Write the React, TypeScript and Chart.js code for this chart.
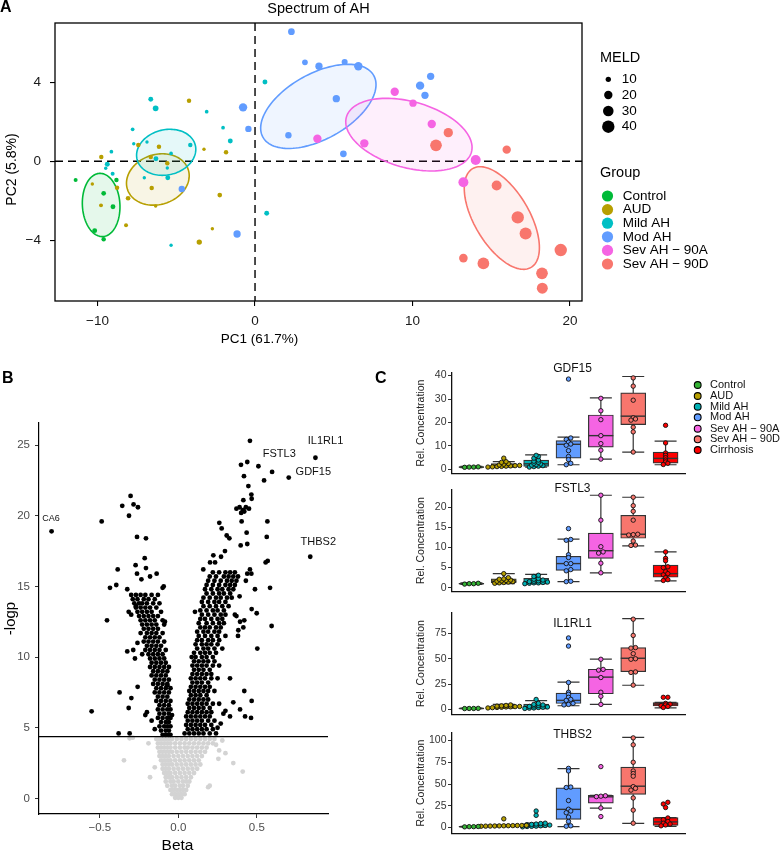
import React, { useEffect, useRef } from "react";
import { Chart, registerables } from "chart.js";

Chart.register(...registerables);

const FONT = '"Liberation Sans", Arial, Helvetica, sans-serif';

// ================= Panel A : PCA =================
const groupNames = ["Control", "AUD", "Mild AH", "Mod AH", "Sev AH \u2212 90A", "Sev AH \u2212 90D"];
const groupColors = ["#00BA38", "#B79F00", "#00BFC4", "#619CFF", "#F564E3", "#F8766D"];
// [PC1, PC2, MELD]
const pcaControl = [[-11.39,-0.95,7],[-8.80,-0.95,8],[-9.61,-1.62,8.5],[-9.02,-2.30,9],[-10.18,-3.51,9],[-9.61,-3.95,8]];
const pcaAUD = [[-4.19,3.07,8],[-3.24,0.61,6],[-1.84,0.46,8],[-6.10,0.74,8],[-7.41,0.83,8],[-9.76,0.22,8],[-6.62,0.22,8],[-5.57,-0.10,8],[-8.76,-1.34,8],[-10.33,-1.15,6],[-9.78,-2.23,7],[-8.06,-1.87,8.5],[-6.56,-1.35,8],[-6.31,-2.26,6],[-2.24,-1.71,8.5],[-8.19,-3.24,7],[-2.71,-3.41,6],[-3.54,-4.09,10]];
const pcaMild = [[-6.62,3.14,9],[-6.31,2.68,11],[-3.07,2.51,6.5],[-2.03,1.70,6.5],[-1.57,1.03,9],[-7.77,1.62,6.5],[-7.70,0.89,6],[-6.86,0.98,6],[-9.12,0.49,6.5],[-9.38,-0.15,9],[-9.48,-0.35,6],[-9.04,-0.63,7],[-4.11,0.83,8],[-5.33,0.40,6.5],[-6.29,0.13,9],[-5.57,-0.34,6],[-5.54,-0.83,9],[-7.03,-0.83,6],[-5.33,-4.25,6],[0.63,4.01,9],[0.74,-2.63,9]];
const pcaMod = [[-0.76,2.73,20],[-0.42,1.64,13],[-4.65,-1.40,13],[-1.14,-3.68,16],[2.31,6.56,14],[3.17,5.01,11],[4.06,4.81,16],[5.69,5.03,12],[6.56,4.81,20],[5.16,3.17,16],[2.12,1.32,13],[5.61,0.38,14],[10.48,3.83,20],[11.15,4.30,16],[10.79,3.34,16]];
const pcaSev90A = [[8.87,3.52,20],[10.03,2.94,16],[11.22,1.89,20],[3.96,1.14,20],[6.94,0.91,20],[14.01,0.07,27],[13.23,-1.06,27]];
const pcaSev90D = [[12.27,1.45,24],[11.49,0.81,36],[15.98,0.59,20],[15.34,-1.22,27],[16.68,-2.84,40],[17.18,-3.65,38],[19.41,-4.49,40],[13.23,-4.90,21],[14.50,-5.17,36],[18.22,-5.67,36],[18.24,-6.42,32]];
const pcaGroups = [pcaControl, pcaAUD, pcaMild, pcaMod, pcaSev90A, pcaSev90D];
// ellipse per group: [centre PC1, centre PC2, semi-axis A (dPC1, dPC2), semi-axis B (dPC1, dPC2)]
const pcaEllipses = [
  [-9.77, -2.21, 0.107, -1.60, 1.19, 0.05],
  [-6.17, -0.92, 1.93, 0.50, 0.49, -1.20],
  [-5.64, 0.455, 1.85, 0.355, 0.336, -1.11],
  [4.02, 2.78, 3.52, 1.56, 1.01, -1.45],
  [9.77, 1.35, 3.97, -0.886, -0.565, -1.61],
  [15.67, -2.87, 1.855, -2.50, -1.50, -0.706],
];
const meldLegend = [10, 20, 30, 40];
const pc1Ticks = [-10, 0, 10, 20];
const pc2Ticks = [-4, 0, 4];

// ================= Panel B : volcano =================
const sigLeftArm = [
  [-0.488,19.6],[-0.552,6.16],[-0.357,20.7],[-0.304,21.4],[-0.285,20.8],[-0.257,20.6],[-0.314,20.0],[-0.263,18.5],[-0.206,18.4],[-0.214,17.0],[-0.386,16.2],[-0.272,16.5],[-0.206,16.3],[-0.138,15.9],[-0.263,15.9],[-0.235,15.5],[-0.180,15.7],[-0.435,14.9],[-0.395,15.1],[-0.325,14.8],[-0.093,15.0],[-0.454,12.6],[-0.316,13.2],[-0.325,10.4],[-0.287,10.5],[-0.276,9.9],[-0.259,7.9],[-0.374,7.5],[-0.299,7.1],[-0.316,6.4],[-0.380,4.6],[-0.310,4.6],
  [-0.30,14.4],[-0.27,14.4],[-0.24,14.4],[-0.21,14.4],[-0.17,14.4],[-0.13,14.4],
  [-0.29,14.1],[-0.26,14.1],[-0.22,14.1],[-0.19,14.1],[-0.15,14.1],
  [-0.28,13.8],[-0.25,13.8],[-0.23,13.8],[-0.20,13.8],[-0.16,13.8],[-0.12,13.8],
  [-0.27,13.5],[-0.24,13.5],[-0.21,13.5],[-0.18,13.5],[-0.14,13.5],
  [-0.26,13.2],[-0.23,13.2],[-0.20,13.2],[-0.17,13.2],[-0.11,13.2],
  [-0.25,12.9],[-0.22,12.9],[-0.19,12.9],[-0.16,12.9],[-0.13,12.9],
  [-0.24,12.6],[-0.21,12.6],[-0.18,12.6],[-0.15,12.6],[-0.10,12.6],
  [-0.23,12.3],[-0.20,12.3],[-0.17,12.3],[-0.14,12.3],[-0.09,12.3],
  [-0.22,12.0],[-0.19,12.0],[-0.16,12.0],[-0.13,12.0],
  [-0.24,11.7],[-0.20,11.7],[-0.17,11.7],[-0.14,11.7],[-0.10,11.7],
  [-0.21,11.4],[-0.18,11.4],[-0.15,11.4],[-0.12,11.4],
  [-0.22,11.1],[-0.19,11.1],[-0.16,11.1],[-0.13,11.1],[-0.09,11.1],
  [-0.20,10.8],[-0.17,10.8],[-0.14,10.8],[-0.11,10.8],
  [-0.21,10.5],[-0.18,10.5],[-0.15,10.5],[-0.12,10.5],[-0.08,10.5],
  [-0.19,10.2],[-0.16,10.2],[-0.13,10.2],[-0.10,10.2],
  [-0.18,9.9],[-0.15,9.9],[-0.12,9.9],[-0.09,9.9],
  [-0.17,9.6],[-0.14,9.6],[-0.11,9.6],[-0.08,9.6],
  [-0.18,9.3],[-0.15,9.3],[-0.12,9.3],[-0.09,9.3],[-0.06,9.3],
  [-0.16,9.0],[-0.13,9.0],[-0.10,9.0],[-0.07,9.0],
  [-0.17,8.7],[-0.14,8.7],[-0.11,8.7],[-0.08,8.7],
  [-0.15,8.4],[-0.12,8.4],[-0.09,8.4],[-0.06,8.4],
  [-0.16,8.1],[-0.13,8.1],[-0.10,8.1],[-0.07,8.1],
  [-0.14,7.8],[-0.11,7.8],[-0.08,7.8],[-0.05,7.8],
  [-0.15,7.5],[-0.12,7.5],[-0.09,7.5],[-0.06,7.5],
  [-0.13,7.2],[-0.10,7.2],[-0.07,7.2],
  [-0.14,6.9],[-0.11,6.9],[-0.08,6.9],[-0.05,6.9],
  [-0.12,6.6],[-0.09,6.6],[-0.06,6.6],
  [-0.13,6.3],[-0.10,6.3],[-0.07,6.3],[-0.05,6.3],
  [-0.12,6.0],[-0.09,6.0],[-0.06,6.0],
  [-0.13,5.7],[-0.10,5.7],[-0.07,5.7],[-0.05,5.7],
  [-0.11,5.4],[-0.08,5.4],[-0.06,5.4],
  [-0.12,5.1],[-0.09,5.1],[-0.07,5.1],[-0.05,5.1],
  [-0.11,4.8],[-0.08,4.8],[-0.06,4.8],
  [-0.10,4.5],[-0.08,4.5],[-0.06,4.5],[-0.05,4.5],
  [-0.21,5.9],[-0.20,6.1],[-0.17,5.5],[-0.15,4.9],[-0.27,13.6],[-0.30,13.0],[-0.085,12.5],[-0.10,14.9],[-0.26,11.0],[-0.23,10.2],[-0.07,8.0],[-0.04,5.9],
];
const sigRightArm = [
  [0.456,25.3],[0.399,23.6],[0.439,23.8],[0.597,23.1],[0.546,22.5],[0.418,22.8],[0.446,22.1],[0.465,21.5],[0.467,21.2],[0.414,21.1],[0.37,20.5],[0.39,20.6],[0.41,20.4],[0.43,20.6],[0.45,20.5],[0.40,20.2],[0.42,20.3],[0.403,19.6],[0.567,19.6],[0.435,18.8],[0.563,18.5],[0.261,19.5],[0.276,19.1],[0.308,18.6],[0.325,18.4],[0.397,17.9],[0.439,18.0],[0.569,16.8],[0.556,16.7],[0.223,17.2],[0.297,17.5],[0.272,17.1],[0.234,16.7],[0.202,16.7],[0.159,16.2],[0.456,16.2],[0.439,15.9],[0.465,15.9],[0.584,14.9],[0.488,14.8],[0.594,12.2],[0.503,10.6],[0.467,13.4],[0.499,13.1],[0.393,12.5],[0.414,12.1],[0.382,11.9],[0.106,13.2],[0.085,10.0],[0.329,8.5],[0.420,7.6],[0.467,6.9],[0.350,6.8],[0.393,6.3],[0.425,5.8],[0.463,5.7],[0.329,5.8],[0.287,6.0],[0.26,6.7],[0.30,6.2],[0.25,5.0],[0.27,5.3],[0.42,12.6],[0.43,15.4],[0.39,14.3],[0.36,13.0],[0.38,11.5],[0.37,12.9],
  [0.22,16.0],[0.26,16.0],[0.30,16.0],[0.33,16.0],[0.36,16.0],
  [0.20,15.7],[0.24,15.7],[0.29,15.7],[0.32,15.7],[0.35,15.7],[0.38,15.7],
  [0.19,15.4],[0.23,15.4],[0.27,15.4],[0.31,15.4],[0.34,15.4],[0.37,15.4],
  [0.18,15.1],[0.22,15.1],[0.26,15.1],[0.30,15.1],[0.33,15.1],[0.36,15.1],
  [0.17,14.8],[0.21,14.8],[0.25,14.8],[0.28,14.8],[0.32,14.8],[0.35,14.8],
  [0.18,14.5],[0.22,14.5],[0.26,14.5],[0.29,14.5],[0.33,14.5],
  [0.16,14.2],[0.20,14.2],[0.24,14.2],[0.27,14.2],[0.31,14.2],[0.34,14.2],
  [0.15,13.9],[0.19,13.9],[0.23,13.9],[0.26,13.9],[0.30,13.9],
  [0.16,13.6],[0.20,13.6],[0.24,13.6],[0.28,13.6],[0.32,13.6],
  [0.14,13.3],[0.18,13.3],[0.22,13.3],[0.25,13.3],[0.29,13.3],
  [0.15,13.0],[0.19,13.0],[0.23,13.0],[0.27,13.0],[0.30,13.0],
  [0.14,12.7],[0.17,12.7],[0.21,12.7],[0.25,12.7],[0.28,12.7],
  [0.13,12.4],[0.18,12.4],[0.22,12.4],[0.26,12.4],[0.29,12.4],
  [0.14,12.1],[0.17,12.1],[0.20,12.1],[0.24,12.1],[0.27,12.1],
  [0.12,11.8],[0.16,11.8],[0.19,11.8],[0.23,11.8],[0.26,11.8],
  [0.13,11.5],[0.17,11.5],[0.21,11.5],[0.25,11.5],[0.30,11.5],
  [0.12,11.2],[0.15,11.2],[0.19,11.2],[0.22,11.2],[0.26,11.2],
  [0.11,10.9],[0.15,10.9],[0.18,10.9],[0.21,10.9],[0.25,10.9],
  [0.12,10.6],[0.16,10.6],[0.19,10.6],[0.23,10.6],[0.28,10.6],
  [0.10,10.3],[0.14,10.3],[0.17,10.3],[0.20,10.3],[0.24,10.3],
  [0.11,10.0],[0.15,10.0],[0.18,10.0],[0.22,10.0],
  [0.10,9.7],[0.13,9.7],[0.16,9.7],[0.19,9.7],[0.23,9.7],
  [0.09,9.4],[0.12,9.4],[0.15,9.4],[0.18,9.4],[0.22,9.4],[0.26,9.4],
  [0.10,9.1],[0.13,9.1],[0.16,9.1],[0.20,9.1],
  [0.09,8.8],[0.12,8.8],[0.15,8.8],[0.18,8.8],[0.21,8.8],
  [0.08,8.5],[0.11,8.5],[0.14,8.5],[0.17,8.5],[0.21,8.5],[0.25,8.5],
  [0.09,8.2],[0.12,8.2],[0.15,8.2],[0.19,8.2],
  [0.08,7.9],[0.11,7.9],[0.14,7.9],[0.17,7.9],[0.20,7.9],
  [0.07,7.6],[0.10,7.6],[0.13,7.6],[0.16,7.6],[0.19,7.6],[0.23,7.6],
  [0.08,7.3],[0.11,7.3],[0.14,7.3],[0.18,7.3],
  [0.07,7.0],[0.10,7.0],[0.13,7.0],[0.16,7.0],[0.19,7.0],
  [0.06,6.7],[0.09,6.7],[0.12,6.7],[0.15,6.7],[0.18,6.7],[0.22,6.7],
  [0.07,6.4],[0.10,6.4],[0.13,6.4],[0.16,6.4],[0.20,6.4],
  [0.06,6.1],[0.09,6.1],[0.12,6.1],[0.15,6.1],[0.18,6.1],[0.21,6.1],
  [0.05,5.8],[0.08,5.8],[0.11,5.8],[0.14,5.8],[0.17,5.8],[0.20,5.8],
  [0.06,5.5],[0.09,5.5],[0.12,5.5],[0.15,5.5],[0.19,5.5],[0.23,5.5],
  [0.05,5.2],[0.08,5.2],[0.11,5.2],[0.14,5.2],[0.17,5.2],[0.21,5.2],
  [0.06,4.9],[0.09,4.9],[0.12,4.9],[0.15,4.9],[0.18,4.9],[0.22,4.9],
  [0.04,4.6],[0.07,4.6],[0.10,4.6],[0.13,4.6],[0.16,4.6],[0.20,4.6],[0.24,4.6],
];
const nonSig = [
  [-0.14,4.2],[-0.12,4.2],[-0.10,4.2],[-0.08,4.2],[-0.06,4.2],[-0.04,4.2],[-0.01,4.2],[0.02,4.2],[0.05,4.2],[0.08,4.2],[0.11,4.2],[0.14,4.2],[0.17,4.2],[0.20,4.2],[0.23,4.2],
  [-0.13,3.9],[-0.11,3.9],[-0.09,3.9],[-0.07,3.9],[-0.05,3.9],[-0.02,3.9],[0.01,3.9],[0.04,3.9],[0.07,3.9],[0.10,3.9],[0.13,3.9],[0.16,3.9],[0.19,3.9],[0.22,3.9],
  [-0.13,3.6],[-0.11,3.6],[-0.09,3.6],[-0.07,3.6],[-0.05,3.6],[-0.02,3.6],[0.01,3.6],[0.04,3.6],[0.06,3.6],[0.09,3.6],[0.12,3.6],[0.15,3.6],[0.18,3.6],
  [-0.12,3.3],[-0.10,3.3],[-0.08,3.3],[-0.06,3.3],[-0.04,3.3],[-0.01,3.3],[0.02,3.3],[0.05,3.3],[0.08,3.3],[0.11,3.3],[0.14,3.3],[0.17,3.3],
  [-0.12,3.0],[-0.10,3.0],[-0.08,3.0],[-0.06,3.0],[-0.03,3.0],[0.00,3.0],[0.03,3.0],[0.06,3.0],[0.09,3.0],[0.12,3.0],[0.15,3.0],
  [-0.11,2.7],[-0.09,2.7],[-0.07,2.7],[-0.05,2.7],[-0.02,2.7],[0.01,2.7],[0.04,2.7],[0.07,2.7],[0.10,2.7],[0.13,2.7],
  [-0.10,2.4],[-0.08,2.4],[-0.06,2.4],[-0.04,2.4],[-0.01,2.4],[0.02,2.4],[0.05,2.4],[0.08,2.4],[0.11,2.4],[0.14,2.4],
  [-0.10,2.1],[-0.08,2.1],[-0.06,2.1],[-0.03,2.1],[0.00,2.1],[0.03,2.1],[0.06,2.1],[0.09,2.1],[0.12,2.1],
  [-0.09,1.8],[-0.07,1.8],[-0.05,1.8],[-0.02,1.8],[0.01,1.8],[0.04,1.8],[0.07,1.8],[0.10,1.8],
  [-0.08,1.5],[-0.06,1.5],[-0.04,1.5],[-0.01,1.5],[0.02,1.5],[0.05,1.5],[0.08,1.5],
  [-0.08,1.2],[-0.05,1.2],[-0.03,1.2],[0.00,1.2],[0.03,1.2],[0.05,1.2],[0.07,1.2],
  [-0.07,0.9],[-0.04,0.9],[-0.02,0.9],[0.01,0.9],[0.03,0.9],[0.06,0.9],
  [-0.05,0.6],[-0.03,0.6],[-0.01,0.6],[0.01,0.6],[0.03,0.6],[0.05,0.6],
  [-0.04,0.3],[-0.02,0.3],[0.00,0.3],[0.02,0.3],[0.04,0.3],
  [-0.02,0.05],[0.00,0.05],[0.02,0.05],
  [-0.346,2.7],[-0.31,4.25],[-0.29,4.3],[-0.18,1.5],[-0.15,2.2],[0.41,1.9],[0.35,2.5],[0.20,0.9],[0.24,3.8],[0.26,3.4],[0.255,2.8],[0.19,0.8],[0.28,4.1],[-0.19,3.9],[0.30,3.2],
];
const geneNames = ["IL1RL1", "FSTL3", "GDF15", "THBS2", "CA6"];
const geneBeta = [0.873, 0.51, 0.703, 0.84, -0.807];
const geneLogp = [24.1, 23.5, 22.7, 17.1, 18.9];
const logpThreshold = 4.37;
const betaTicks = [-0.5, 0, 0.5];
const betaTickLabels = ["\u22120.5", "0.0", "0.5"];
const logpTicks = [0, 5, 10, 15, 20, 25];

// ================= Panel C : box plots =================
const cGroupNames = ["Control", "AUD", "Mild AH", "Mod AH", "Sev AH \u2212 90A", "Sev AH \u2212 90D", "Cirrhosis"];
const cGroupColors = ["#35B335", "#B79F00", "#00B0B4", "#619CFF", "#F564E3", "#F8766D", "#FF0000"];
// stats per group: [lower whisker, Q1, median, Q3, upper whisker]
const gdf15Points = [
  [0.9, 1.0, 1.1, 1.0],
  [1.0, 1.1, 1.2, 1.3, 1.4, 1.5, 1.6, 1.7, 1.9, 2.2, 2.5, 3.0, 3.3, 4.8],
  [1.0, 1.2, 1.4, 1.6, 1.8, 2.0, 2.3, 2.6, 3.0, 3.5, 4.0, 4.8, 5.5, 6.0],
  [38.5, 13.4, 12.8, 11.6, 10.8, 10.3, 8.0, 5.5, 4.2, 2.6, 2.0],
  [30.3, 25.0, 21.2, 14.4, 11.0, 8.2, 4.4],
  [39.0, 35.5, 29.5, 22.0, 21.5, 21.0, 18.0, 16.0, 7.4],
  [18.8, 11.3, 7.0, 6.0, 5.0, 4.0, 3.2, 2.6, 2.1],
];
const gdf15Stats = [[0.8,0.9,1.0,1.15,1.3],[1.0,1.2,1.6,2.5,3.3],[1.0,1.3,2.4,4.0,6.2],[2.0,4.8,10.7,12.3,13.8],[4.4,9.5,14.4,23.2,30.5],[7.4,19.1,22.7,32.6,39.6],[2.0,2.7,4.7,7.4,12.1]];
const fstl3Points = [
  [1.0, 1.1, 0.9, 1.0],
  [1.1, 1.2, 1.3, 1.4, 1.5, 1.6, 1.7, 1.8, 1.9, 2.1, 2.2, 2.5, 3.5],
  [1.0, 1.1, 1.2, 1.2, 1.3, 1.4, 1.5, 1.6, 1.7, 1.9, 2.1, 2.3, 2.8, 3.1],
  [14.7, 12.0, 11.8, 8.2, 7.5, 6.0, 6.0, 4.5, 4.2, 1.6, 1.5],
  [23.0, 16.8, 10.2, 8.9, 8.6, 6.1, 3.7],
  [22.5, 20.4, 19.0, 16.8, 13.3, 13.2, 13.1, 11.6, 10.6, 10.5],
  [8.9, 7.3, 6.7, 5.2, 5.0, 4.0, 3.5, 3.2, 2.5, 2.0, 1.8],
];
const fstl3Stats = [[0.85,0.95,1.0,1.1,1.2],[1.0,1.2,1.6,2.2,3.5],[1.0,1.1,1.4,2.3,3.3],[1.5,4.3,6.0,7.8,12.1],[3.7,7.3,9.2,13.6,23.0],[10.4,12.3,13.3,18.0,22.5],[1.7,2.6,3.5,5.6,8.9]];
const il1rl1Points = [
  [1.0, 1.1, 0.9, 1.0],
  [1.5, 1.8, 2.0, 2.2, 2.5, 2.6, 2.8, 3.0, 3.3, 3.6, 4.0, 4.5],
  [1.0, 1.3, 1.5, 2.0, 2.2, 2.5, 3.0, 3.5, 4.0, 4.5, 5.0, 6.0, 9.9],
  [70.5, 62.5, 26.6, 17.0, 15.0, 12.0, 10.0, 9.0, 6.0, 5.0, 4.5],
  [49.5, 39.5, 38.8, 31.5, 17.0, 13.0, 5.0],
  [89.0, 73.0, 61.0, 60.5, 55.0, 50.0, 49.5, 37.0, 36.5, 24.0],
  [12.0, 12.0, 6.0, 5.2, 4.5, 3.8, 3.0, 2.0],
];
const il1rl1Stats = [[0.7,0.9,1.0,1.2,1.3],[1.2,1.9,2.6,3.4,5.0],[0.9,1.6,3.0,5.3,8.7],[3.7,5.9,9.0,16.1,27.0],[5.0,15.5,31.9,39.7,49.6],[23.9,37.2,50.5,61.0,89.6],[1.5,3.4,5.3,6.8,7.0]];
const thbs2Points = [
  [1.0, 0.8, 1.2, 1.0],
  [1.5, 1.6, 1.7, 1.8, 1.9, 2.0, 2.1, 2.2, 2.3, 2.4, 2.5, 10.0],
  [0.8, 1.2, 1.4, 1.6, 2.0, 2.4, 2.8, 3.2, 3.6, 4.0, 4.6, 5.0, 14.0, 19.0],
  [68.0, 65.0, 46.5, 46.0, 31.0, 21.0, 19.0, 17.0, 12.0, 7.0, 2.0, 1.5],
  [70.0, 36.5, 36.0, 35.5, 22.5, 12.6],
  [103.0, 95.0, 75.0, 65.0, 62.0, 59.0, 47.0, 45.0, 43.0, 34.0, 20.0, 5.0],
  [29.0, 27.0, 23.0, 11.0, 9.0, 7.0, 5.0, 4.0, 3.0, 2.0],
];
const thbs2Stats = [[0.6,0.8,1.0,1.2,1.4],[1.3,1.7,2.0,2.4,2.8],[0.7,1.3,2.5,4.5,5.0],[1.1,9.4,20.9,45.7,67.6],[22.3,28.0,35.3,37.0,37.0],[4.7,38.1,47.5,69.4,103.6],[1.4,2.5,6.5,11.5,11.5]];
const gdf15Ticks = [0, 10, 20, 30, 40];
const fstl3Ticks = [0, 5, 10, 15, 20];
const il1rl1Ticks = [0, 25, 50, 75];
const thbs2Ticks = [0, 25, 50, 75, 100];

// ================= helpers =================
const minus = (v: number) => (v < 0 ? "\u2212" + Math.abs(v) : String(v));
const fixedTicks = (vals: number[]) => (scale: any) => {
  scale.ticks = vals.map((v) => ({ value: v }));
};
const fnt = (size: number, weight: any = "normal") => ({ family: FONT, size, weight, lineHeight: 1.2 });
function rgba(hex: string, a: number) {
  const n = parseInt(hex.slice(1), 16);
  return `rgba(${(n >> 16) & 255},${(n >> 8) & 255},${n & 255},${a})`;
}
function meldRadius(m: number) {
  return Math.sqrt(Math.max(1.5, 1.044 * m - 3.36));
}
function drawText(ctx: any, s: string, x: number, y: number, size: number, align: string = "center", color = "#000", weight = "normal", rot = 0) {
  ctx.save();
  ctx.font = `${weight} ${size}px ${FONT}`;
  ctx.fillStyle = color;
  ctx.textAlign = align;
  ctx.textBaseline = "middle";
  ctx.translate(x, y);
  if (rot) ctx.rotate(rot);
  ctx.fillText(s, 0, 0);
  ctx.restore();
}
function stackOffsets(values: number[], bin: number, spacing: number) {
  const sorted = values.map((v, i) => ({ v, i })).sort((a, b) => a.v - b.v);
  const out: number[] = new Array(values.length).fill(0);
  let cur: { v: number; i: number }[] = [];
  const flush = () => {
    cur.forEach((d, k) => (out[d.i] = (k - (cur.length - 1) / 2) * spacing));
    cur = [];
  };
  sorted.forEach((d) => {
    if (cur.length && d.v - cur[0].v > bin) flush();
    cur.push(d);
  });
  flush();
  return out;
}
const baseOptions = {
  responsive: false,
  animation: false,
  devicePixelRatio: 1,
  events: [],
  plugins: { legend: { display: false }, tooltip: { enabled: false }, title: { display: false } },
};

// ================= Panel A config =================
const panelAPlugin = {
  id: "panelA",
  beforeDatasetsDraw(chart: any) {
    const { ctx, chartArea: ca, scales } = chart;
    const x = scales.x, y = scales.y;
    ctx.save();
    ctx.strokeStyle = "#000";
    ctx.lineWidth = 1.4;
    ctx.setLineDash([8, 5]);
    const x0 = x.getPixelForValue(0), y0 = y.getPixelForValue(0);
    ctx.beginPath();
    ctx.moveTo(x0, ca.top); ctx.lineTo(x0, ca.bottom);
    ctx.moveTo(ca.left, y0); ctx.lineTo(ca.right, y0);
    ctx.stroke();
    ctx.setLineDash([]);
    pcaEllipses.forEach((e, gi) => {
      ctx.beginPath();
      for (let k = 0; k <= 120; k++) {
        const t = (k / 120) * 2 * Math.PI;
        const vx = e[0] + e[2] * Math.cos(t) + e[4] * Math.sin(t);
        const vy = e[1] + e[3] * Math.cos(t) + e[5] * Math.sin(t);
        const px = x.getPixelForValue(vx), py = y.getPixelForValue(vy);
        if (k === 0) ctx.moveTo(px, py); else ctx.lineTo(px, py);
      }
      ctx.closePath();
      ctx.fillStyle = rgba(groupColors[gi], 0.1);
      ctx.fill();
      ctx.strokeStyle = groupColors[gi];
      ctx.lineWidth = 1.6;
      ctx.stroke();
    });
    ctx.restore();
  },
  afterDraw(chart: any) {
    const { ctx, chartArea: ca } = chart;
    ctx.save();
    ctx.strokeStyle = "#000";
    ctx.lineWidth = 1.3;
    ctx.strokeRect(ca.left, ca.top, ca.right - ca.left, ca.bottom - ca.top);
    ctx.restore();
    drawText(ctx, "A", 0, 8, 16, "left", "#000", "bold");
    drawText(ctx, "Spectrum of AH", (ca.left + ca.right) / 2, 8.5, 14.5);
    drawText(ctx, "PC1 (61.7%)", 259.5, 339, 13.5);
    drawText(ctx, "PC2 (5.8%)", 12, 169.5, 14, "center", "#000", "normal", -Math.PI / 2);
    // MELD legend
    drawText(ctx, "MELD", 600, 58, 14.5, "left");
    const meldY = [79.3, 95, 111, 126.7];
    meldLegend.forEach((m, i) => {
      ctx.beginPath();
      ctx.arc(608.3, meldY[i], meldRadius(m), 0, Math.PI * 2);
      ctx.fillStyle = "#000";
      ctx.fill();
      drawText(ctx, String(m), 621.7, meldY[i], 13.5, "left");
    });
    drawText(ctx, "Group", 600, 173, 14.5, "left");
    const gy = [196, 209.6, 223.2, 236.8, 250.4, 264];
    groupNames.forEach((g, i) => {
      ctx.beginPath();
      ctx.arc(607.5, gy[i], 5.6, 0, Math.PI * 2);
      ctx.fillStyle = groupColors[i];
      ctx.fill();
      drawText(ctx, g, 622.7, gy[i], 13.5, "left");
    });
  },
};

function configA(): any {
  return {
    type: "scatter",
    data: {
      datasets: pcaGroups.map((g, gi) => ({
        label: groupNames[gi],
        data: g.map((p) => ({ x: p[0], y: p[1] })),
        pointBackgroundColor: groupColors[gi],
        pointBorderWidth: 0,
        pointRadius: (c: any) => meldRadius(g[c.dataIndex][2]),
      })),
    },
    options: {
      ...baseOptions,
      layout: { padding: { left: 0, top: 23, right: 198, bottom: 0 } },
      scales: {
        x: {
          type: "linear", min: -12.7, max: 20.76,
          afterBuildTicks: fixedTicks(pc1Ticks),
          afterFit: (s: any) => { s.height = 49; },
          grid: { drawOnChartArea: false, drawTicks: true, tickLength: 5, color: "#000", lineWidth: 1.1 },
          border: { display: false },
          ticks: { font: fnt(13.5), color: "#1a1a1a", padding: 7.5, maxRotation: 0, autoSkip: false, callback: (v: any) => minus(v) },
        },
        y: {
          type: "linear", min: -7.07, max: 7.0,
          afterBuildTicks: fixedTicks(pc2Ticks),
          afterFit: (s: any) => { s.width = 55; },
          grid: { drawOnChartArea: false, drawTicks: true, tickLength: 5, color: "#000", lineWidth: 1.1 },
          border: { display: false },
          ticks: { font: fnt(13.5), color: "#1a1a1a", padding: 9, autoSkip: false, callback: (v: any) => minus(v) },
        },
      },
    },
    plugins: [panelAPlugin],
  };
}

// ================= Panel B config =================
const labelOffsets = [[10.1, -17], [20.9, -12.2], [24.6, -5.8], [8.1, -14.4], [-0.6, -12.3]];
const labelSizes = [11, 11, 11, 11, 9];
const panelBPlugin = {
  id: "panelB",
  afterDatasetsDraw(chart: any) {
    const { ctx, chartArea: ca, scales } = chart;
    const yT = scales.y.getPixelForValue(logpThreshold);
    ctx.save();
    ctx.strokeStyle = "#000";
    ctx.lineWidth = 1.3;
    ctx.beginPath();
    ctx.moveTo(ca.left, yT); ctx.lineTo(ca.right, yT);
    ctx.stroke();
    ctx.restore();
    geneNames.forEach((g, i) => {
      const px = scales.x.getPixelForValue(geneBeta[i]);
      const py = scales.y.getPixelForValue(geneLogp[i]);
      drawText(ctx, g, px + labelOffsets[i][0], py + labelOffsets[i][1], labelSizes[i], "center", "#111");
    });
  },
  afterDraw(chart: any) {
    const { ctx, chartArea: ca } = chart;
    drawText(ctx, "B", 2, 49, 16, "left", "#000", "bold");
    drawText(ctx, "-logp", 11, (ca.top + ca.bottom) / 2, 15, "center", "#000", "normal", -Math.PI / 2);
    drawText(ctx, "Beta", (ca.left + ca.right) / 2 - 6, 516, 15.5);
  },
};
function configB(): any {
  return {
    type: "scatter",
    data: {
      datasets: [
        {
          label: "ns", order: 2,
          data: nonSig.map((p) => ({ x: p[0], y: p[1] })),
          pointBackgroundColor: "#D3D3D3", pointBorderWidth: 0, pointRadius: 2.4,
        },
        {
          label: "sig", order: 1,
          data: [...sigLeftArm, ...sigRightArm].map((p) => ({ x: p[0], y: p[1] })),
          pointBackgroundColor: "#000", pointBorderWidth: 0, pointRadius: 2.4,
        },
        {
          label: "genes", order: 0,
          data: geneBeta.map((b, i) => ({ x: b, y: geneLogp[i] })),
          pointBackgroundColor: "#000", pointBorderWidth: 0, pointRadius: 2.4,
        },
      ],
    },
    options: {
      ...baseOptions,
      layout: { padding: { left: 0, top: 93, right: 32, bottom: 0 } },
      scales: {
        x: {
          type: "linear", min: -0.887, max: 0.953,
          afterBuildTicks: fixedTicks(betaTicks),
          afterFit: (s: any) => { s.height = 43; },
          grid: { drawOnChartArea: false, drawTicks: true, tickLength: 4, color: "#333", lineWidth: 1 },
          border: { display: true, color: "#000", width: 1.2 },
          ticks: { font: fnt(11.5), color: "#4D4D4D", padding: 2.5, maxRotation: 0, autoSkip: false, callback: (_v: any, i: number) => betaTickLabels[i] },
        },
        y: {
          type: "linear", min: -1.1, max: 26.56,
          afterBuildTicks: fixedTicks(logpTicks),
          afterFit: (s: any) => { s.width = 39; },
          grid: { drawOnChartArea: false, drawTicks: true, tickLength: 4, color: "#333", lineWidth: 1 },
          border: { display: true, color: "#000", width: 1.2 },
          ticks: { font: fnt(11.5), color: "#4D4D4D", padding: 5, autoSkip: false, callback: (v: any) => String(v) },
        },
      },
    },
    plugins: [panelBPlugin],
  };
}

// ================= Panel C config =================
const cPanels = [
  { title: "GDF15", points: gdf15Points, stats: gdf15Stats, ticks: gdf15Ticks, min: -1.61, max: 41.09, top: 355, height: 126, padTop: 18, titleY: 369 },
  { title: "FSTL3", points: fstl3Points, stats: fstl3Stats, ticks: fstl3Ticks, min: -0.87, max: 24.3, top: 481, height: 118, padTop: 9, titleY: 489 },
  { title: "IL1RL1", points: il1rl1Points, stats: il1rl1Stats, ticks: il1rl1Ticks, min: -4.65, max: 95.1, top: 600, height: 122, padTop: 13, titleY: 624 },
  { title: "THBS2", points: thbs2Points, stats: thbs2Stats, ticks: thbs2Ticks, min: -6.5, max: 108.6, top: 722, height: 119, padTop: 11, titleY: 735 },
];
const BOX_W = 25;
const CAP_W = 22;

function boxPlugin(p: any, idx: number) {
  return {
    id: "box" + idx,
    beforeDatasetsDraw(chart: any) {
      const { ctx, scales } = chart;
      const x = scales.x, y = scales.y;
      ctx.save();
      ctx.strokeStyle = "#333";
      ctx.lineWidth = 1.2;
      p.stats.forEach((s: number[], i: number) => {
        const cx = x.getPixelForValue(i + 1);
        const y0 = y.getPixelForValue(s[0]), y1 = y.getPixelForValue(s[1]);
        const y3 = y.getPixelForValue(s[3]), y4 = y.getPixelForValue(s[4]);
        ctx.beginPath();
        ctx.moveTo(cx, y0); ctx.lineTo(cx, y1);
        ctx.moveTo(cx, y3); ctx.lineTo(cx, y4);
        ctx.moveTo(cx - CAP_W / 2, y0); ctx.lineTo(cx + CAP_W / 2, y0);
        ctx.moveTo(cx - CAP_W / 2, y4); ctx.lineTo(cx + CAP_W / 2, y4);
        ctx.stroke();
      });
      ctx.restore();
    },
    afterDatasetDraw(chart: any, args: any) {
      if (args.index !== 0) return;
      const { ctx, scales } = chart;
      ctx.save();
      ctx.strokeStyle = "#333";
      ctx.lineWidth = 1.4;
      p.stats.forEach((s: number[], i: number) => {
        const cx = scales.x.getPixelForValue(i + 1);
        const ym = scales.y.getPixelForValue(s[2]);
        ctx.beginPath();
        ctx.moveTo(cx - BOX_W / 2, ym); ctx.lineTo(cx + BOX_W / 2, ym);
        ctx.stroke();
      });
      ctx.restore();
    },
    afterDraw(chart: any) {
      const { ctx, chartArea: ca } = chart;
      drawText(ctx, p.title, 212.5, p.titleY - p.top, 12, "center", "#111");
      drawText(ctx, "Rel. Concentration", 61, (ca.top + ca.bottom) / 2, 10.5, "center", "#222", "normal", -Math.PI / 2);
      if (idx === 0) {
        drawText(ctx, "C", 15, 24, 16, "left", "#000", "bold");
        const ly = [30, 41, 51.7, 62.3, 73.7, 84.3, 95];
        cGroupNames.forEach((g, i) => {
          ctx.beginPath();
          ctx.arc(337.7, ly[i], 3.4, 0, Math.PI * 2);
          ctx.fillStyle = cGroupColors[i];
          ctx.fill();
          ctx.strokeStyle = "#000";
          ctx.lineWidth = 1.1;
          ctx.stroke();
          drawText(ctx, g, 350, ly[i], 11, "left", "#111");
        });
      }
    },
  };
}

function configC(p: any, idx: number): any {
  const range = p.max - p.min;
  const pointSets = p.points.map((vals: number[], gi: number) => {
    const offs = stackOffsets(vals, range * 0.018, 0.14);
    return {
      type: "scatter",
      label: cGroupNames[gi],
      order: 0,
      data: vals.map((v, k) => ({ x: gi + 1 + offs[k], y: v })),
      pointBackgroundColor: cGroupColors[gi],
      pointBorderColor: "#111",
      pointBorderWidth: 0.9,
      pointRadius: 2.2,
    };
  });
  return {
    type: "bar",
    data: {
      datasets: [
        {
          type: "bar",
          label: "box",
          order: 1,
          data: p.stats.map((s: number[], i: number) => ({ x: i + 1, y: [s[1], s[3]] })),
          backgroundColor: cGroupColors,
          borderColor: "#333",
          borderWidth: 1.2,
          borderSkipped: false,
          barThickness: BOX_W,
        },
        ...pointSets,
      ],
    },
    options: {
      ...baseOptions,
      layout: { padding: { left: 0, top: p.padTop, right: 95, bottom: 0 } },
      scales: {
        x: {
          type: "linear", min: 0.4, max: 7.6, offset: false,
          afterFit: (s: any) => { s.height = 2; },
          grid: { display: false },
          border: { display: true, color: "#111", width: 1.3 },
          ticks: { display: false },
        },
        y: {
          type: "linear", min: p.min, max: p.max, beginAtZero: false,
          afterBuildTicks: fixedTicks(p.ticks),
          afterFit: (s: any) => { s.width = 92; },
          grid: { drawOnChartArea: false, drawTicks: true, tickLength: 4, color: "#333", lineWidth: 1 },
          border: { display: true, color: "#111", width: 1.3 },
          ticks: { font: fnt(10.5), color: "#333", padding: 1.5, autoSkip: false, callback: (v: any) => String(v) },
        },
      },
    },
    plugins: [boxPlugin(p, idx)],
  };
}

// ================= components =================
function ChartBox({ left, top, width, height, make }: { left: number; top: number; width: number; height: number; make: () => any }) {
  const ref = useRef<HTMLCanvasElement | null>(null);
  useEffect(() => {
    if (!ref.current) return;
    const chart = new Chart(ref.current, make());
    return () => chart.destroy();
  }, []);
  return (
    <div style={{ position: "absolute", left, top, width, height }}>
      <canvas ref={ref} width={width} height={height} style={{ width, height, display: "block" }} />
    </div>
  );
}

export default function App() {
  return (
    <div style={{ position: "absolute", left: 0, top: 0, width: 780, height: 857, background: "#fff", overflow: "hidden" }}>
      <ChartBox left={0} top={0} width={780} height={350} make={configA} />
      <ChartBox left={0} top={330} width={360} height={527} make={configB} />
      {cPanels.map((p, i) => (
        <ChartBox key={p.title} left={360} top={p.top} width={420} height={p.height} make={() => configC(p, i)} />
      ))}
    </div>
  );
}
